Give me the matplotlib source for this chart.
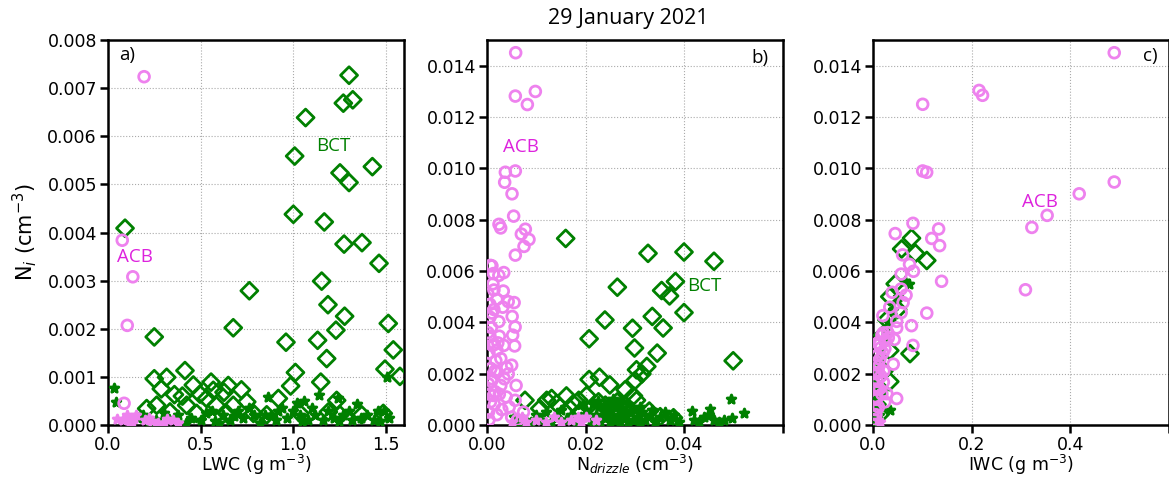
import matplotlib
matplotlib.use('Agg')
import matplotlib.pyplot as plt

plt.rcParams['font.family'] = ['DejaVu Sans']

# ---- panel a: LWC vs Ni ----
a_acb_lwc = [0.195, 0.077, 0.134, 0.104, 0.087]
a_acb_ni = [0.00724, 0.00384, 0.00308, 0.00207, 0.00045]

a_bct_lwc = [1.303, 1.272, 1.323, 1.068, 1.009, 1.254, 1.303, 1.429, 1.002, 1.169,
             1.276, 1.373, 1.465, 0.092, 1.155, 0.764, 1.189, 1.279, 1.232, 1.515,
             0.677, 0.250, 0.962, 1.133, 1.542, 1.182, 1.497, 1.578, 1.013, 0.416,
             0.250, 0.317, 1.150, 0.288, 0.461, 0.557, 0.650, 0.721, 0.987, 0.359,
             0.402, 0.497, 0.569, 0.627, 0.533, 0.425, 0.584, 0.677, 0.750, 0.921,
             1.236, 1.191, 1.488, 1.254, 1.371, 0.858, 1.038, 0.263, 0.209, 0.335,
             0.479, 0.641, 0.786]
a_bct_ni = [0.00727, 0.00669, 0.00676, 0.00639, 0.00559, 0.00524, 0.00504, 0.00537, 0.00438, 0.00422,
            0.00376, 0.00379, 0.00336, 0.00409, 0.00299, 0.00279, 0.00250, 0.00226, 0.00197, 0.00211,
            0.00202, 0.00183, 0.00172, 0.00176, 0.00156, 0.00138, 0.00116, 0.00101, 0.00109, 0.00113,
            0.00096, 0.00099, 0.00089, 0.00075, 0.00083, 0.00089, 0.00082, 0.00073, 0.00081, 0.00063,
            0.00060, 0.00064, 0.00072, 0.00068, 0.00055, 0.00041, 0.00041, 0.00041, 0.00048, 0.00055,
            0.00051, 0.00027, 0.00024, 0.00021, 0.00021, 0.00021, 0.00024, 0.00041, 0.00034, 0.00027,
            0.00024, 0.00024, 0.00024]

a_oth_lwc = [0.034, 0.041, 0.16, 0.19, 0.22, 0.26, 0.30, 0.33, 0.38, 0.42, 0.45, 0.50, 0.53, 0.56,
             0.58, 0.62, 0.66, 0.70, 0.73, 0.76, 0.79, 0.82, 0.867, 0.88, 0.91, 0.94, 0.97, 1.00,
             1.02, 1.04, 1.06, 1.08, 1.10, 1.12, 1.142, 1.16, 1.19, 1.22, 1.245, 1.27, 1.30, 1.32,
             1.344, 1.37, 1.40, 1.44, 1.46, 1.49, 1.506, 1.52, 0.27, 0.60, 0.85, 1.05, 1.25, 1.47,
             0.68, 0.92]
a_oth_ni = [0.00077, 0.00048, 0.00015, 0.0002, 0.00005, 0.0001, 0.00025, 0.00012, 0.0002, 0.00005,
            0.00015, 0.0001, 0.00025, 0.0003, 0.00008, 0.0002, 0.0001, 0.00028, 0.00015, 0.00035,
            0.0002, 0.00005, 0.00058, 0.0002, 0.0001, 0.00035, 0.00015, 0.0003, 0.00045, 0.0002,
            0.0005, 0.0001, 0.00035, 0.0002, 0.00063, 0.0001, 0.0003, 0.00015, 0.00056, 0.0002,
            0.0003, 0.0001, 0.00044, 0.00015, 0.0002, 0.0001, 0.00028, 0.0003, 0.00099, 0.00015,
            0.00005, 0.00005, 0.0002, 0.00008, 0.00008, 0.00008, 0.00018, 0.00028]

a_pk_lwc = [0.05, 0.10, 0.12, 0.32, 0.35, 0.38, 0.30, 0.08, 0.14, 0.15, 0.20, 0.22, 0.24, 0.27, 0.13]
a_pk_ni = [0.00012, 0.0002, 0.00008, 0.00012, 0.0001, 0.00004, 0.00005, 0.0001, 0.00015, 0.0002,
           0.0001, 0.00015, 0.00008, 0.00005, 0.00005]

# ---- panel b: Ndrizzle vs Ni ----
b_acb_nd = [0.00581, 0.00574, 0.00818, 0.0098, 0.00358, 0.00372, 0.00574, 0.00507, 0.0054, 0.00243,
            0.00277, 0.00777, 0.00696, 0.00851, 0.0075, 0.00574, 0.0007, 0.0013, 0.0024, 0.0034,
            0.0014, 0.0033, 0.0043, 0.0055, 0.001, 0.0032, 0.0024, 0.0051, 0.0057, 0.0006,
            0.0025, 0.0052, 0.0015, 0.0034, 0.0056, 0.0020, 0.0028, 0.005, 0.004, 0.002,
            0.0043, 0.001, 0.0028, 0.0059, 0.0013, 0.0039, 0.0057, 0.0074,
            0.0003, 0.0005, 0.0008, 0.0004, 0.0009, 0.0006, 0.0012, 0.0003, 0.0015, 0.0018,
            0.0007, 0.002, 0.0025, 0.0011, 0.0002, 0.0014, 0.0030, 0.0035, 0.0045, 0.0004,
            0.0009, 0.0016, 0.002, 0.0006, 0.0002, 0.0010, 0.0016, 0.0022, 0.005, 0.0062]
b_acb_ni = [0.01451, 0.01282, 0.01249, 0.0130, 0.00946, 0.00985, 0.0099, 0.00901, 0.00814, 0.00782,
            0.00768, 0.00763, 0.00744, 0.00723, 0.00696, 0.00662, 0.00622, 0.0059, 0.00583, 0.00594,
            0.00526, 0.00522, 0.00481, 0.00477, 0.00436, 0.00459, 0.00403, 0.00423, 0.00382, 0.00346,
            0.00346, 0.0035, 0.00314, 0.0031, 0.00308, 0.00292, 0.00259, 0.00233, 0.00224, 0.00205,
            0.00199, 0.0018, 0.00154, 0.00154, 0.00115, 0.00109, 0.00096, 0.0005,
            0.0005, 0.0012, 0.0022, 0.0028, 0.0038, 0.0047, 0.0055, 0.0016, 0.0008, 0.0025,
            0.0009, 0.0004, 0.0012, 0.0031, 0.0036, 0.0045, 0.0006, 0.0018, 0.0007, 0.0002,
            0.0017, 0.0021, 0.0049, 0.0042, 0.0051, 0.0062, 0.0013, 0.0032, 0.0003, 0.0002]

b_bct_nd = [0.01595, 0.03264, 0.03993, 0.04601, 0.02642, 0.0382, 0.0354, 0.0370, 0.03993, 0.0239,
            0.0335, 0.0295, 0.0357, 0.0207, 0.0299, 0.0345, 0.0499, 0.0207, 0.0228, 0.0249,
            0.0300, 0.0303, 0.0324, 0.0314, 0.028, 0.0297, 0.0303, 0.0202, 0.0186, 0.0161,
            0.0175, 0.0077, 0.0121, 0.0131, 0.0141, 0.0107, 0.0226, 0.024, 0.0264, 0.0329,
            0.0283, 0.0256, 0.0222, 0.0189, 0.0161, 0.0351, 0.0378, 0.0297]
b_bct_ni = [0.00727, 0.00669, 0.00674, 0.00638, 0.00537, 0.00559, 0.00524, 0.00503, 0.00438, 0.00409,
            0.00423, 0.00377, 0.00378, 0.00336, 0.0030, 0.0028, 0.0025, 0.00177, 0.00186, 0.00156,
            0.00173, 0.00215, 0.00228, 0.00199, 0.00137, 0.00113, 0.00096, 0.00115, 0.00096, 0.00113,
            0.00083, 0.00096, 0.00096, 0.00103, 0.00083, 0.00064, 0.0009, 0.00077, 0.0009, 0.00054,
            0.00064, 0.00051, 0.00038, 0.00051, 0.00045, 0.00032, 0.00028, 0.00032]

b_oth_nd = [0.0055, 0.0065, 0.0075, 0.009, 0.010, 0.011, 0.012, 0.013, 0.014, 0.015, 0.016, 0.017,
            0.018, 0.019, 0.020, 0.021, 0.0215, 0.022, 0.023, 0.0235, 0.024, 0.0245, 0.025, 0.0255,
            0.026, 0.0265, 0.027, 0.0275, 0.028, 0.0285, 0.029, 0.0295, 0.030, 0.0305, 0.031, 0.0315,
            0.032, 0.033, 0.034, 0.035, 0.036, 0.037, 0.038, 0.039, 0.0415, 0.042, 0.043, 0.044,
            0.045, 0.0452, 0.046, 0.047, 0.048, 0.0495, 0.0496, 0.052, 0.0225, 0.0265, 0.0195, 0.0215,
            0.0235, 0.025, 0.027, 0.0285, 0.031, 0.0335, 0.0255, 0.024]
b_oth_ni = [0.0003, 0.0001, 0.0002, 0.0001, 0.0004, 0.0002, 0.0005, 0.0001, 0.0003, 0.0006, 0.0002, 0.0004,
            0.0001, 0.0003, 0.0006, 0.0002, 0.0008, 0.0004, 0.0001, 0.0007, 0.0003, 0.0009, 0.0005, 0.0002,
            0.0007, 0.0004, 0.0001, 0.0006, 0.0003, 0.0008, 0.0005, 0.0002, 0.0006, 0.0003, 0.0001, 0.0005,
            0.0002, 0.0004, 0.0001, 0.0003, 0.0005, 0.0002, 0.0004, 0.0001, 0.00054, 0.0002, 0.0001, 0.0003,
            0.0004, 0.00064, 0.0002, 0.0001, 0.0002, 0.00103, 0.00028, 0.00047, 0.00095, 0.00085, 0.0008, 0.0001,
            0.0003, 0.0001, 0.0009, 0.0001, 0.0007, 0.0006, 0.0010, 0.0006]

b_pk_nd = [0.005, 0.007, 0.008, 0.010, 0.012, 0.0135, 0.015, 0.017, 0.019, 0.020, 0.022, 0.0185]
b_pk_ni = [0.0001, 0.0003, 0.0001, 0.0002, 0.0001, 0.0003, 0.0001, 0.0002, 0.0001, 0.0003, 0.0002, 0.0003]

# ---- panel c: IWC vs Ni ----
c_acb_iwc = [0.489, 0.215, 0.222, 0.1007, 0.1007, 0.1088, 0.489, 0.418, 0.353, 0.322,
             0.309, 0.081, 0.045, 0.133, 0.119, 0.135, 0.139, 0.109, 0.060, 0.074,
             0.057, 0.082, 0.039, 0.057, 0.067, 0.061, 0.034, 0.020, 0.057, 0.048,
             0.078, 0.048, 0.021, 0.031, 0.043, 0.013, 0.024, 0.081, 0.014, 0.041,
             0.011, 0.021, 0.028, 0.048, 0.024,
             0.003, 0.005, 0.007, 0.004, 0.009, 0.006, 0.012, 0.008, 0.015, 0.010,
             0.018, 0.005, 0.013, 0.016, 0.003, 0.011, 0.02, 0.025, 0.03, 0.006, 0.018, 0.022]
c_acb_ni = [0.01451, 0.01304, 0.01285, 0.0125, 0.0099, 0.00985, 0.00947, 0.00901, 0.00817, 0.0077,
            0.00527, 0.00786, 0.00746, 0.00764, 0.00727, 0.00699, 0.0056, 0.00436, 0.00663, 0.00626,
            0.00588, 0.00599, 0.00517, 0.0053, 0.00506, 0.00477, 0.00459, 0.00426, 0.00438, 0.00404,
            0.00387, 0.00378, 0.00359, 0.0034, 0.00333, 0.00314, 0.00297, 0.0031, 0.00256, 0.00237,
            0.00205, 0.00167, 0.00122, 0.00103, 0.0009,
            0.0002, 0.0006, 0.001, 0.0014, 0.0017, 0.002, 0.0023, 0.0027, 0.003, 0.0032,
            0.0035, 0.0011, 0.0014, 0.0019, 0.0024, 0.0007, 0.0028, 0.0033, 0.0036, 0.0004, 0.0012, 0.0021]

c_bct_iwc = [0.078, 0.058, 0.086, 0.109, 0.075, 0.034, 0.034, 0.028, 0.034, 0.014, 0.011, 0.022,
             0.045, 0.02, 0.05, 0.008]
c_bct_ni = [0.00728, 0.00686, 0.00669, 0.00641, 0.00278, 0.00169, 0.0050, 0.0041, 0.0029, 0.0004,
            0.0013, 0.0021, 0.0055, 0.0035, 0.0045, 0.0008]

c_oth_iwc = [0.002, 0.004, 0.003, 0.006, 0.005, 0.008, 0.003, 0.010, 0.006, 0.009, 0.012, 0.015, 0.02,
             0.025, 0.03, 0.034, 0.04, 0.05, 0.065, 0.072, 0.002, 0.001, 0.007, 0.012, 0.004]
c_oth_ni = [0.0001, 0.0003, 0.0006, 0.0009, 0.0012, 0.0015, 0.0018, 0.0021, 0.0005, 0.0008, 0.0025,
            0.0029, 0.0033, 0.0037, 0.004, 0.00058, 0.0045, 0.005, 0.0056, 0.0055, 0.0009, 0.0004,
            0.0002, 0.0004, 0.0020]

c_pk_iwc = [0.01, 0.015]
c_pk_ni = [0.0002, 0.0001]

PINK = 'violet'
GREEN = 'green'
TXT_PINK = '#dd22dd'
LBL = 13.5

fig = plt.figure(figsize=(11.69, 4.78), dpi=100)
ax_a = fig.add_axes([0.0924, 0.111, 0.2532, 0.805])
ax_b = fig.add_axes([0.4166, 0.111, 0.2532, 0.805])
ax_c = fig.add_axes([0.7468, 0.111, 0.2532, 0.805])


def draw(ax, bx, by, ox, oy, px, py, ax_x, ax_y):
    ax.scatter(bx, by, marker='D', s=75, facecolors='none', edgecolors=GREEN, linewidths=2, zorder=3)
    ax.scatter(ox, oy, marker='*', s=40, color=GREEN, linewidths=2.2, zorder=3)
    ax.scatter(px, py, marker='*', s=40, color=PINK, linewidths=2.2, zorder=4)
    ax.scatter(ax_x, ax_y, marker='o', s=60, facecolors='none', edgecolors=PINK, linewidths=2, zorder=4)
    ax.grid(True, linestyle=':', color='#aaaaaa', linewidth=0.8)
    ax.set_axisbelow(True)
    for sp in ax.spines.values():
        sp.set_linewidth(1.8)
    ax.tick_params(direction='out', length=6, width=1.8, labelsize=12.5, pad=2)


draw(ax_a, a_bct_lwc, a_bct_ni, a_oth_lwc, a_oth_ni, a_pk_lwc, a_pk_ni, a_acb_lwc, a_acb_ni)
ax_a.set_xlim(0, 1.6)
ax_a.set_ylim(0, 0.008)
ax_a.set_xticks([0, 0.5, 1.0, 1.5])
ax_a.set_yticks([0, 0.001, 0.002, 0.003, 0.004, 0.005, 0.006, 0.007, 0.008])
ax_a.set_xlabel('LWC (g m$^{-3}$)', fontsize=12.5, labelpad=-1)
ax_a.set_ylabel('N$_i$ (cm$^{-3}$)', fontsize=15, labelpad=6)
ax_a.text(0.06, 0.0077, 'a)', fontsize=LBL, family='Open Sans', va='center')
ax_a.text(1.22, 0.0058, 'BCT', color=GREEN, fontsize=LBL, family='Open Sans', ha='center', va='center')
ax_a.text(0.146, 0.0035, 'ACB', color=TXT_PINK, fontsize=LBL, family='Open Sans', ha='center', va='center')

draw(ax_b, b_bct_nd, b_bct_ni, b_oth_nd, b_oth_ni, b_pk_nd, b_pk_ni, b_acb_nd, b_acb_ni)
ax_b.set_xlim(0, 0.06)
ax_b.set_ylim(0, 0.015)
ax_b.set_xticks([0, 0.02, 0.04, 0.06])
ax_b.set_xticklabels(['0.00', '0.02', '0.04', ''])
ax_b.set_yticks([0, 0.002, 0.004, 0.006, 0.008, 0.010, 0.012, 0.014])
ax_b.set_yticklabels(['0.000', '0.002', '0.004', '0.006', '0.008', '0.010', '0.012', '0.014'])
ax_b.set_xlabel('N$_{drizzle}$ (cm$^{-3}$)', fontsize=12.5, labelpad=-1)
ax_b.text(0.0553, 0.0143, 'b)', fontsize=LBL, family='Open Sans', ha='center', va='center')
ax_b.text(0.0068, 0.01085, 'ACB', color=TXT_PINK, fontsize=LBL, family='Open Sans', ha='center', va='center')
ax_b.text(0.044, 0.0054, 'BCT', color=GREEN, fontsize=LBL, family='Open Sans', ha='center', va='center')

draw(ax_c, c_bct_iwc, c_bct_ni, c_oth_iwc, c_oth_ni, c_pk_iwc, c_pk_ni, c_acb_iwc, c_acb_ni)
ax_c.set_xlim(0, 0.6)
ax_c.set_ylim(0, 0.015)
ax_c.set_xticks([0, 0.2, 0.4, 0.6])
ax_c.set_xticklabels(['0.0', '0.2', '0.4', ''])
ax_c.set_yticks([0, 0.002, 0.004, 0.006, 0.008, 0.010, 0.012, 0.014])
ax_c.set_yticklabels(['0.000', '0.002', '0.004', '0.006', '0.008', '0.010', '0.012', '0.014'])
ax_c.set_xlabel('IWC (g m$^{-3}$)', fontsize=12.5, labelpad=-1)
ax_c.text(0.562, 0.01438, 'c)', fontsize=LBL, family='Open Sans', ha='center', va='center')
ax_c.text(0.339, 0.0087, 'ACB', color=TXT_PINK, fontsize=LBL, family='Open Sans', ha='center', va='center')

fig.text(0.537, 0.962, '29 January 2021', fontsize=15.5, family='Open Sans', ha='center', va='center')

fig.savefig('out.png', dpi=100)
